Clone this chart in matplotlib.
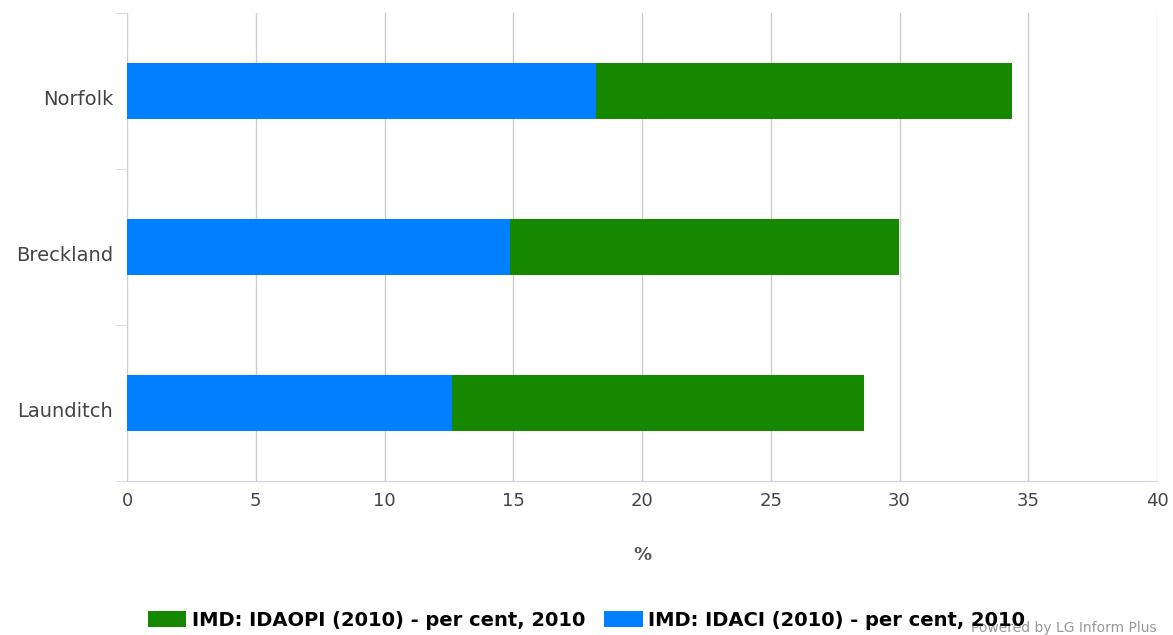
import matplotlib.pyplot as plt
import matplotlib.transforms as mtransforms

# data
areas = ["Norfolk", "Breckland", "Launditch"]
idaci = [18.20, 14.87, 12.62]
idaopi = [16.18, 15.12, 15.99]

blue = "#0080ff"
green = "#158800"

fig = plt.figure(figsize=(11.73, 6.35), dpi=100)
ax = fig.add_axes([0.1083, 0.2425, 0.8781, 0.737])

pos = list(range(len(areas)))[::-1]
ax.barh(pos, idaci, height=0.36, color=blue, label="IMD: IDACI (2010) - per cent, 2010", zorder=3)
ax.barh(pos, idaopi, left=idaci, height=0.36, color=green,
        label="IMD: IDAOPI (2010) - per cent, 2010", zorder=3)

ax.set_xlim(0, 40)
ax.set_ylim(-0.5, 2.5)
ax.set_xticks(range(0, 41, 5))
ax.set_yticks(pos)
ax.set_yticklabels(areas)
ax.set_yticks([-0.5, 0.5, 1.5, 2.5], minor=True)

ax.grid(axis="x", color="#cccccc", linewidth=1, zorder=0)
for s in ["top", "right", "left"]:
    ax.spines[s].set_visible(False)
ax.spines["bottom"].set_color("#ccd6eb")
ax.tick_params(axis="y", which="major", length=0, pad=10, labelsize=14, labelcolor="#444444")
ax.tick_params(axis="y", which="minor", length=8, color="#ccd6eb")
ax.tick_params(axis="x", length=0, pad=8, labelsize=13, labelcolor="#444444")

# category labels sit a little below the bar centre
shift = mtransforms.ScaledTranslation(0, -6 / 100, fig.dpi_scale_trans)
for lbl in ax.get_yticklabels():
    lbl.set_transform(lbl.get_transform() + shift)

ax.set_xlabel("%", fontsize=13, fontweight="bold", color="#555555", labelpad=26)

handles, labels = ax.get_legend_handles_labels()
fig.legend(handles[::-1], labels[::-1], loc="center", ncol=2, frameon=False,
           bbox_to_anchor=(0.5, 0.023), prop={"weight": "bold", "size": 14},
           handlelength=1.96, handleheight=0.93, columnspacing=1.0, handletextpad=0.3)

fig.text(0.986, 0.0, "Powered by LG Inform Plus", ha="right", va="bottom",
         fontsize=10, color="#999999")

plt.savefig("out.png", dpi=100)
